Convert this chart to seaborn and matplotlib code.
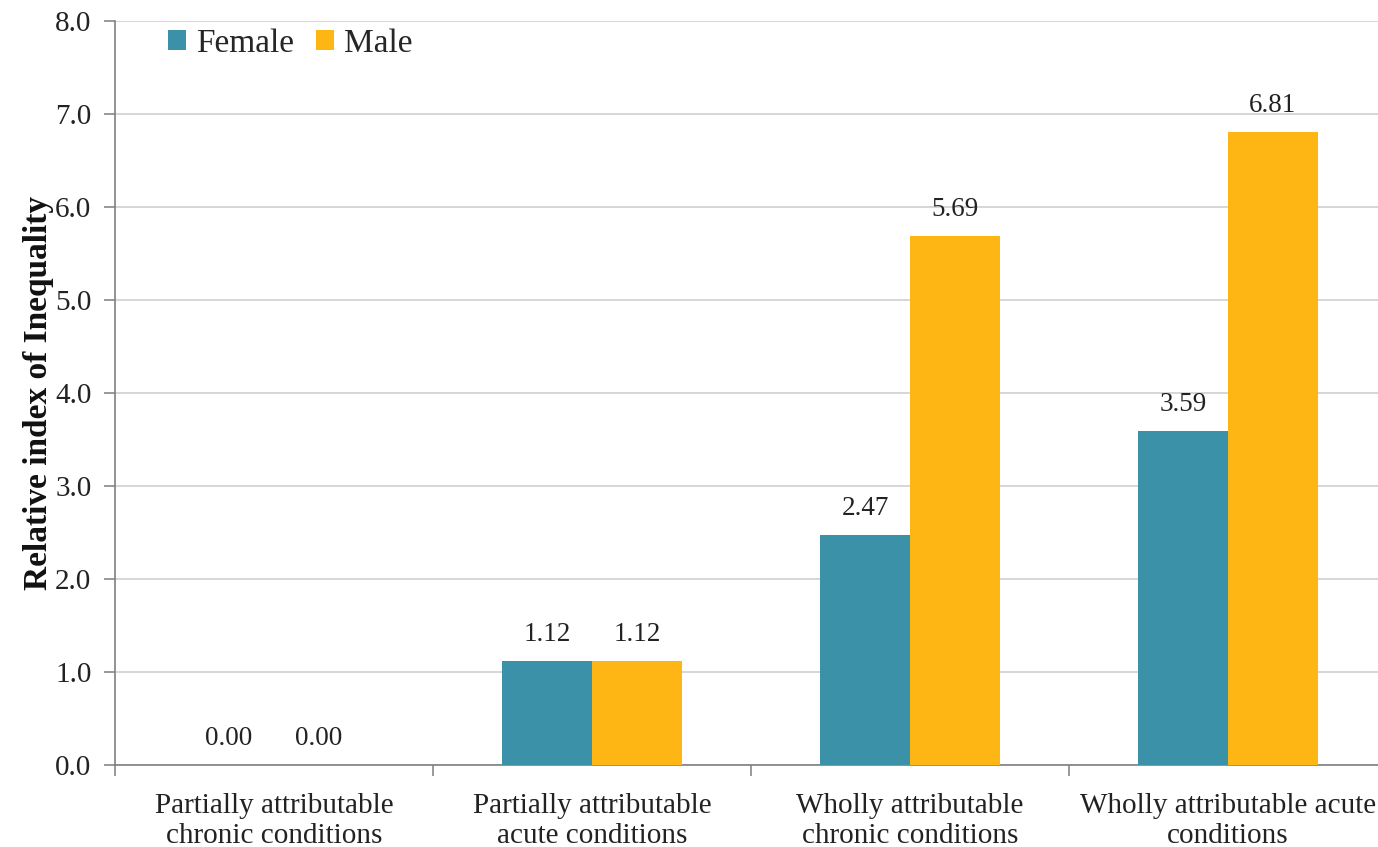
import matplotlib
matplotlib.use("Agg")
import matplotlib.pyplot as plt
from matplotlib.ticker import FixedLocator
import seaborn as sns
import pandas as pd

categories = [
    "Partially attributable\nchronic conditions",
    "Partially attributable\nacute conditions",
    "Wholly attributable\nchronic conditions",
    "Wholly attributable acute\nconditions",
]
female = [0.00, 1.12, 2.47, 3.59]
male = [0.00, 1.12, 5.69, 6.81]
groups = ["Female", "Male"]
colors = {"Female": "#3A91A8", "Male": "#FDB614"}

df = pd.DataFrame({
    "category": categories * 2,
    "sex": [groups[0]] * 4 + [groups[1]] * 4,
    "value": female + male,
})

sns.set_theme(style="white")
plt.rcParams["font.family"] = ["Liberation Serif", "DejaVu Serif"]

fig = plt.figure(figsize=(13.78, 8.47), dpi=100)
ax = fig.add_axes([115 / 1378, 1 - 765 / 847, 1272 / 1378, 744 / 847])

sns.barplot(data=df, x="category", y="value", hue="sex", palette=colors,
            width=0.566, saturation=1, errorbar=None, ax=ax, zorder=3,
            linewidth=0, edgecolor="none")

ax.set_xlim(-0.5, 3.5)
ax.set_ylim(0, 8)
ax.set_yticks([i for i in range(9)])
ax.set_yticklabels([f"{i:.1f}" for i in range(9)], fontsize=21, color="#222222")
ax.yaxis.grid(True, color="#D0D0D0", linewidth=1.2, zorder=0)
ax.set_axisbelow(True)

# Category labels centered, tick marks at category boundaries
ax.tick_params(axis="x", which="major", length=0, pad=20, labelsize=21,
               labelcolor="#222222")
ax.xaxis.set_minor_locator(FixedLocator([-0.5, 0.5, 1.5, 2.5]))
ax.tick_params(axis="x", which="minor", length=8, width=1.2, color="#888888",
               direction="out", bottom=True)
ax.tick_params(axis="y", which="major", length=8, width=1.2, color="#888888",
               direction="out", left=True, pad=9)

for side in ["top", "right"]:
    ax.spines[side].set_visible(False)
for side in ["left", "bottom"]:
    ax.spines[side].set_color("#808080")
    ax.spines[side].set_linewidth(1.2)

ax.set_xlabel("")
ax.set_ylabel("Relative index of Inequality", fontsize=24, fontweight="bold",
              color="#111111", labelpad=1)

for container in ax.containers:
    ax.bar_label(container, fmt="%.2f", padding=10, fontsize=19.5, color="#222222")

leg = ax.legend(loc="upper left", bbox_to_anchor=(0.018, 1.03), ncol=2,
                frameon=False, fontsize=24, handlelength=0.55, handleheight=0.55,
                handletextpad=0.3, columnspacing=0.65)

fig.savefig("out.png", dpi=100)
